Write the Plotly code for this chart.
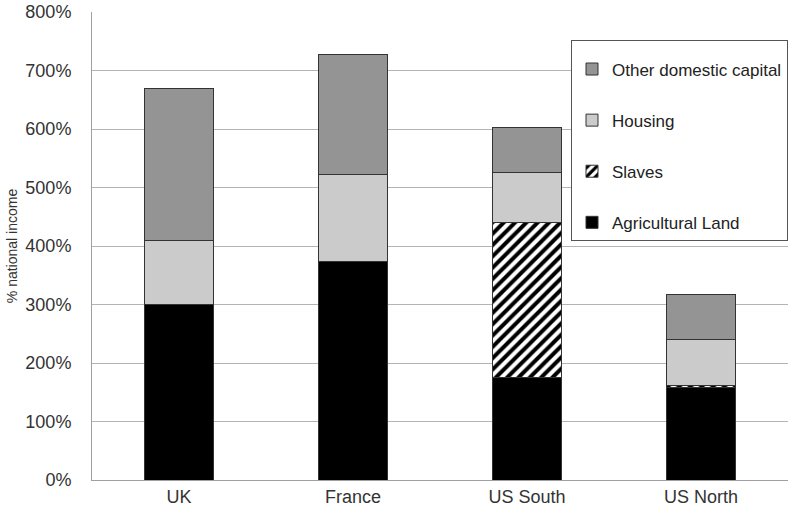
import plotly.graph_objects as go

categories = ["UK", "France", "US South", "US North"]
agricultural_land = [300, 373, 176, 158]
slaves = [0, 0, 265, 4]
housing = [110, 150, 84, 78]
other_domestic = [260, 205, 78, 77]
y_tick_values = [0, 100, 200, 300, 400, 500, 600, 700, 800]
y_tick_labels = ["0%", "100%", "200%", "300%", "400%", "500%", "600%", "700%", "800%"]

FONT = "Liberation Sans, Arial, sans-serif"
outline = dict(color="#333333", width=1)

fig = go.Figure()
fig.add_trace(go.Bar(name="Agricultural Land", x=categories, y=agricultural_land,
                     marker=dict(color="#000000", line=outline), legendgroup="a", legendrank=4))
fig.add_trace(go.Bar(name="Slaves", x=categories, y=slaves,
                     marker=dict(color="#ffffff", line=outline,
                                 pattern=dict(shape="/", fgcolor="#000000", bgcolor="#ffffff",
                                              size=8, solidity=0.5, fillmode="replace")),
                     legendgroup="b", legendrank=3))
fig.add_trace(go.Bar(name="Housing", x=categories, y=housing,
                     marker=dict(color="#cbcbcb", line=outline), legendgroup="c", legendrank=2))
fig.add_trace(go.Bar(name="Other domestic capital", x=categories, y=other_domestic,
                     marker=dict(color="#949494", line=outline), legendgroup="d", legendrank=1))

fig.update_layout(
    barmode="stack",
    bargap=0.6,
    width=797, height=517, autosize=False,
    margin=dict(l=92, r=9, t=12, b=37),
    paper_bgcolor="white", plot_bgcolor="white",
    font=dict(family=FONT, size=18, color="#333333"),
    showlegend=True,
    legend=dict(x=1.0, y=0.94, xanchor="right", yanchor="top",
                bordercolor="#555555", borderwidth=1, bgcolor="white",
                traceorder="grouped", tracegroupgap=26,
                title=dict(text=" ", font=dict(size=8)),
                font=dict(family=FONT, size=17, color="#222222"),
                itemwidth=30),
    xaxis=dict(showline=True, linecolor="#a0a0a0", linewidth=1, showgrid=False,
               ticks="", automargin=False,
               tickfont=dict(size=18, color="#333333")),
    yaxis=dict(range=[0, 800], tickvals=y_tick_values, ticktext=y_tick_labels,
               showgrid=True, gridcolor="#b4b4b4", gridwidth=1,
               showline=True, linecolor="#a0a0a0", linewidth=1,
               ticks="", ticklabelstandoff=16, automargin=False,
               tickfont=dict(size=18, color="#333333"),
               title=dict(text="% national income", font=dict(size=14, color="#333333"),
                          standoff=4),
               zeroline=False),
)

post = (
    "document.documentElement.style.margin='0px';"
    "document.documentElement.style.overflow='hidden';"
    "document.body.style.margin='0px';"
    "document.body.style.overflow='hidden';"
    "Plotly.relayout('{plot_id}', {width: 797, height: 517, autosize: false});"
)
fig.write_html("out.html", post_script=post,
               config={"displayModeBar": False, "responsive": False})
